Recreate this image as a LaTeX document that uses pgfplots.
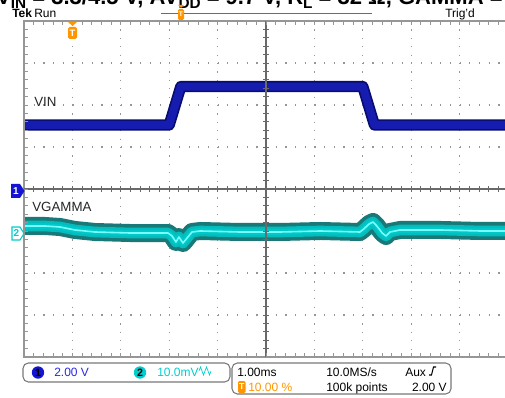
\documentclass[border=0pt]{standalone}
\usepackage{pgfplots}
\pgfplotsset{compat=1.18}
\usepackage{fontspec}
\setmainfont{Liberation Sans}
\definecolor{vinblue}{RGB}{22,28,175}
\definecolor{vinedge}{RGB}{8,12,110}
\definecolor{teal1}{RGB}{25,120,120}
\definecolor{cyan1}{RGB}{0,200,200}
\definecolor{cyan2}{RGB}{120,255,255}
\definecolor{gridc}{RGB}{150,150,150}
\definecolor{crossc}{RGB}{105,105,105}
\definecolor{tekorange}{RGB}{255,150,0}
\definecolor{ch1}{RGB}{20,20,210}
\definecolor{ch1txt}{RGB}{40,40,230}
\definecolor{ch2}{RGB}{0,205,205}
\definecolor{boxgray}{RGB}{120,120,120}
\definecolor{toplineblue}{RGB}{90,90,235}
\pgfplotstableread{
x y
0 -0.881
0.434 -0.881
0.744 -0.905
1.054 -0.976
1.467 -1.024
2.19 -1.048
2.975 -1.048
3.058 -1.119
3.14 -1.262
3.20 -1.143
3.285 -1.286
3.37 -1.167
3.47 -1.024
3.64 -1.0
4.46 -1.024
5.29 -1.024
6.12 -1.0
6.94 -1.024
7.02 -0.952
7.13 -0.833
7.21 -0.786
7.29 -0.881
7.40 -1.048
7.48 -1.119
7.56 -1.024
7.77 -0.976
8.60 -0.976
9.42 -1.0
10 -1.0
}\vgamma
\pgfplotstableread{
x y
0 1.524
3.0 1.524
3.24 2.44
7.0 2.44
7.24 1.524
10 1.524
}\vin
\usepackage{pgfplotstable}
\begin{document}
\begin{tikzpicture}
% ---------- grid dots (behind traces)
\begin{scope}[x=0.75pt,y=-0.75pt]
 \foreach \k in {1,...,9} {
   \draw[gridc, line width=0.9pt, dash pattern=on 0.9pt off 5.4pt] ({24+48.4*\k},21) -- ({24+48.4*\k},357);
 }
 \foreach \k in {1,...,7} {
   \draw[gridc, line width=0.9pt, dash pattern=on 0.9pt off 6.36pt] (24,{21+42*\k}) -- (508,{21+42*\k});
 }
\end{scope}
% ---------- traces
\begin{axis}[at={(18pt,-15.75pt)}, anchor=north west, scale only axis,
  width=363pt, height=252pt, xmin=0, xmax=10, ymin=-4, ymax=4, hide axis]
% VIN (2 V/div)
\addplot[vinedge, line width=8.5pt, line join=round] table {\vin};
\addplot[vinblue, line width=6pt, line join=round] table {\vin};
% VGAMMA (10 mV/div)
\addplot[teal1, line width=13.5pt, line join=round] table {\vgamma};
\addplot[cyan1!85!teal1, line width=8pt, line join=round] table {\vgamma};
\addplot[cyan1, line width=4.5pt, line join=round] table {\vgamma};
\addplot[cyan2, line width=1.2pt, line join=round] table {\vgamma};
\end{axis}
% ---------- frame, crosshair, ticks, labels
\begin{scope}[x=0.75pt,y=-0.75pt]
 \draw[gridc, line width=0.8pt] (508,21) -- (24,21) -- (24,357) -- (508,357);
 \draw[crossc, line width=0.8pt] (266,21) -- (266,357);
 \draw[crossc, line width=0.8pt] (24,189) -- (508,189);
 \foreach \k in {1,...,39} {
   \draw[crossc, line width=0.6pt] (263,{21+8.4*\k}) -- (269,{21+8.4*\k});
 }
 \foreach \k in {1,...,49} {
   \draw[crossc, line width=0.6pt] ({24+9.68*\k},186) -- ({24+9.68*\k},192);
   \draw[gridc, line width=0.6pt] ({24+9.68*\k},21) -- ({24+9.68*\k},25);
   \draw[gridc, line width=0.6pt] ({24+9.68*\k},357) -- ({24+9.68*\k},353);
 }
 \foreach \k in {1,...,39} {
   \draw[gridc, line width=0.6pt] (24,{21+8.4*\k}) -- (28,{21+8.4*\k});
 }
 % title (clipped at top)
 \node[anchor=base west, inner sep=0pt, font=\fontsize{16.5}{18}\selectfont\bfseries] at (-4,5)
  {V\raisebox{-3pt}{\fontsize{11.5}{12}\selectfont IN} = 3.3/4.5 V, AV\raisebox{-3pt}{\fontsize{11.5}{12}\selectfont DD} = 9.7 V, R\raisebox{-3pt}{\fontsize{11.5}{12}\selectfont L} = 32 Ω, GAMMA = 3.3 V};
 % header
 \node[anchor=base west, inner sep=0pt, font=\fontsize{9}{10}\selectfont\bfseries] at (12,18) {Tek};
 \node[anchor=base west, inner sep=0pt, font=\fontsize{9}{10}\selectfont] at (34,18) {Run};
 \node[anchor=base west, inner sep=0pt, font=\fontsize{9}{10}\selectfont] at (445,18) {Trig'd};
 \draw[toplineblue, line width=0.7pt] (161,13) -- (372,13);
 \fill[tekorange] (178,5) -- (184,5) -- (181,8) -- cycle;
 \fill[tekorange, rounded corners=1pt] (178,9) rectangle (184,20);
 \node[white, inner sep=0pt, font=\fontsize{5}{5}\selectfont\bfseries] at (181,14.5) {T};
 \fill[tekorange] (68,22) -- (77,22) -- (72.5,26) -- cycle;
 \fill[tekorange, rounded corners=1.2pt] (68,27) rectangle (77,39);
 \node[white, inner sep=0pt, font=\fontsize{7}{7}\selectfont\bfseries] at (72.5,33) {T};
 % channel markers
 \fill[ch1] (11,184) -- (20,184) -- (24.5,191) -- (20,198) -- (11,198) -- cycle;
 \node[white, inner sep=0pt, font=\fontsize{7.5}{8}\selectfont\bfseries] at (16,191) {1};
 \filldraw[fill=white, draw=ch2, line width=0.8pt] (12,227) -- (20,227) -- (24,233.5) -- (20,240) -- (12,240) -- cycle;
 \node[ch2, inner sep=0pt, font=\fontsize{7.5}{8}\selectfont\bfseries] at (16.5,233.5) {2};
 % trace labels
 \node[anchor=base west, inner sep=0pt, text=black!85, font=\fontsize{10}{12}\selectfont] at (34,107) {VIN};
 \node[anchor=base west, inner sep=0pt, text=black!85, font=\fontsize{10}{12}\selectfont] at (32,212) {VGAMMA};
 % status boxes
 \draw[boxgray, line width=0.8pt, rounded corners=4pt] (23,363) rectangle (230,382);
 \draw[boxgray, line width=0.8pt, rounded corners=4pt] (232,363) rectangle (451,394);
 \fill[ch1] (38,372.5) circle (6.2);
 \node[black, inner sep=0pt, font=\fontsize{8}{8}\selectfont\bfseries] at (38,372.5) {1};
 \node[anchor=base west, inner sep=0pt, text=ch1txt, font=\fontsize{9}{10}\selectfont] at (54,376) {2.00 V};
 \fill[ch2] (140,372.5) circle (6.2);
 \node[black, inner sep=0pt, font=\fontsize{8}{8}\selectfont\bfseries] at (140,372.5) {2};
 \node[anchor=base west, inner sep=0pt, text=ch2, font=\fontsize{9}{10}\selectfont] at (157,376) {10.0mV};
 \draw[ch2, line width=0.5pt] (199,371) -- (200.5,367) -- (202,371) -- (203.5,375) -- (205,371) -- (206.5,367) -- (208,371) -- (209.5,375) -- (211,371);
 \node[anchor=base west, inner sep=0pt, font=\fontsize{9}{10}\selectfont] at (237,376) {1.00ms};
 \node[anchor=base west, inner sep=0pt, font=\fontsize{9}{10}\selectfont] at (326,376) {10.0MS/s};
 \node[anchor=base west, inner sep=0pt, font=\fontsize{9}{10}\selectfont] at (405,376) {Aux};
 \draw[black, line width=0.8pt] (429,375) -- (431.5,375) -- (433.5,367) -- (436,367);
 \fill[tekorange, rounded corners=1pt] (238,381) rectangle (245.5,393);
 \node[white, inner sep=0pt, font=\fontsize{6.5}{7}\selectfont\bfseries] at (241.75,387) {T};
 \node[anchor=base west, inner sep=0pt, text=tekorange, font=\fontsize{9}{10}\selectfont] at (248,391) {10.00 \%};
 \node[anchor=base west, inner sep=0pt, font=\fontsize{9}{10}\selectfont] at (326,391) {100k points};
 \node[anchor=base east, inner sep=0pt, font=\fontsize{9}{10}\selectfont] at (447,391) {2.00 V};
\end{scope}
\pgfresetboundingbox
\useasboundingbox (0,0) rectangle (378.75pt,-298.5pt);
\end{tikzpicture}
\end{document}
